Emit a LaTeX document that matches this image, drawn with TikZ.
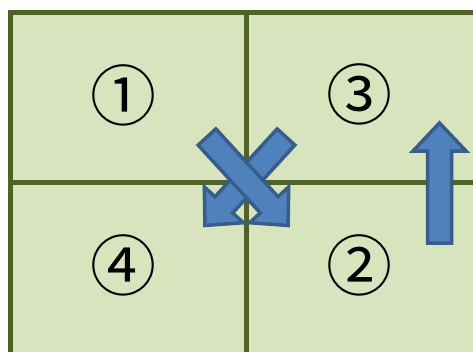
\documentclass[tikz,border=0pt]{standalone}
\usepackage{fontspec}
\newfontfamily\cjkfont{Noto Sans CJK JP}
\definecolor{cellfill}{HTML}{D7E4BD}
\definecolor{gridline}{HTML}{4F6228}
\definecolor{arrowfill}{HTML}{4F81BD}
\definecolor{arrowline}{HTML}{385D8A}
\tikzset{
  gridstyle/.style={draw=gridline, line width=5pt},
  numlabel/.style={font=\cjkfont\fontsize{66}{66}\selectfont, inner sep=0pt},
  arrowstyle/.style={fill=arrowfill, draw=arrowline, line width=3.5pt, line join=miter},
  blockarrow/.pic={
    \path[arrowstyle] (0,-12) -- (92,-12) -- (92,-26.5) -- (120,0) -- (92,26.5) -- (92,12) -- (0,12) -- cycle;
  }
}
\begin{document}
\begin{tikzpicture}[x=1pt,y=-1pt]
\useasboundingbox (0,0) rectangle (473,351);
\clip (0,0) rectangle (473,351);
\fill[white] (0,0) rectangle (473,351);
% cells
\path[fill=cellfill] (10.5,12.5) rectangle (481.5,354);
\draw[gridstyle] (10.5,12.5) rectangle (481.5,354);
\draw[gridstyle] (246,12.5) -- (246,354);
\draw[gridstyle] (10.5,182.5) -- (481.5,182.5);
% labels
\node[numlabel] (n1) at (123,95) {①};
\node[numlabel] (n3) at (359,94) {③};
\node[numlabel] (n4) at (123,265) {④};
\node[numlabel] (n2) at (359,265) {②};
% arrows
\pic[rotate=227.5] at (286,137) {blockarrow};
\pic[rotate=-47.5] at (207,137) {blockarrow};
\pic[rotate=90] at (439.5,243) {blockarrow};
\end{tikzpicture}
\end{document}
